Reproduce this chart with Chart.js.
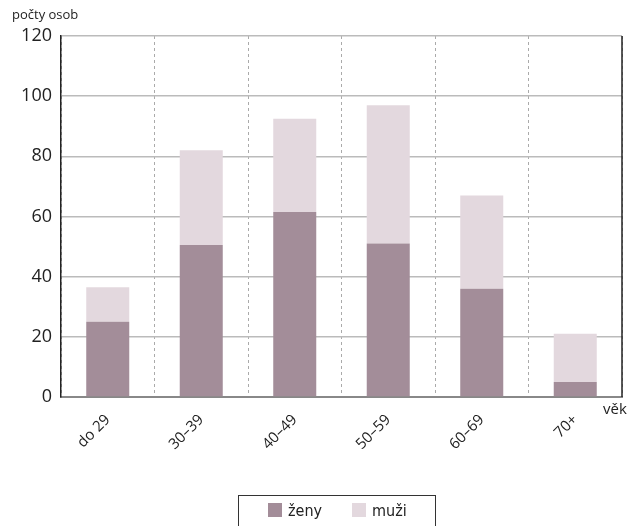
<!DOCTYPE html>
<html>
<head>
<meta charset="utf-8">
<script src="https://cdn.jsdelivr.net/npm/chart.js@4"></script>
<style>
  body { margin: 0; background: #fff; }
  #wrap { position: relative; width: 635px; height: 526px; }
  #legend {
    position: absolute; left: 238px; top: 495px; width: 198px; height: 40px;
    border: 1px solid #333; box-sizing: border-box;
    font-family: "DejaVu Sans Condensed", "Liberation Sans Narrow", sans-serif; font-size: 16px; color: #222;
  }
  #legend span.item { position: absolute; top: 5px; white-space: nowrap; }
  #legend span.box { display: inline-block; width: 14px; height: 14px; vertical-align: -1px; margin-right: 6px; }
</style>
</head>
<body>
<div id="wrap">
  <canvas id="chart" width="635" height="526"></canvas>
  <div id="legend"></div>
</div>
<script>
const categories = ["do 29", "30–39", "40–49", "50–59", "60–69", "70+"];
const zeny = [25, 50.5, 61.5, 51, 36, 5];
const muzi = [11.5, 31.5, 31, 46, 31, 16];
const seriesNames = ["ženy", "muži"];
const seriesColors = ["#a38d99", "#e3d8de"];

// popisky os a pravy okraj
const extras = {
    id: "extras",
    afterDraw(chart) {
        const ctx = chart.ctx;
        const a = chart.chartArea;
        ctx.save();
        ctx.strokeStyle = "#222";
        ctx.lineWidth = 1.5;
        ctx.beginPath();
        ctx.moveTo(a.right, a.top);
        ctx.lineTo(a.right, a.bottom);
        ctx.stroke();
        ctx.fillStyle = "#222";
        ctx.textBaseline = "middle";
        ctx.font = "13px 'Open Sans'";
        ctx.fillText("počty osob", 12, 15);
        ctx.font = "15px 'Open Sans'";
        ctx.fillText("věk", 603, 410);
        ctx.restore();
    }
};

new Chart(document.getElementById("chart").getContext("2d"), {
    type: "bar",
    data: {
        labels: categories,
        datasets: [
            { label: seriesNames[0], data: zeny, backgroundColor: seriesColors[0] },
            { label: seriesNames[1], data: muzi, backgroundColor: seriesColors[1] }
        ]
    },
    options: {
        responsive: false,
        animation: false,
        datasets: { bar: { barPercentage: 0.46, categoryPercentage: 1 } },
        layout: { padding: { top: 36, right: 13, left: 0, bottom: 0 } },
        plugins: { legend: { display: false }, tooltip: { enabled: false } },
        scales: {
            x: {
                stacked: true,
                afterFit: s => { s.height = 129; },
                grid: { color: "#aaa", lineWidth: 1, drawTicks: false, offset: true },
                border: { color: "#888", width: 2, dash: [3, 3] },
                ticks: {
                    color: "#222", maxRotation: 45, minRotation: 45, padding: 14,
                    font: { family: "Open Sans", size: 15 }
                }
            },
            y: {
                stacked: true,
                min: 0, max: 120,
                afterFit: s => { s.width = 61; },
                grid: { color: "#bbb", lineWidth: 1.5, drawTicks: false },
                border: { color: "#222", width: 1.5 },
                ticks: {
                    stepSize: 20, color: "#222", padding: 9,
                    font: { family: "Open Sans", size: 18 }
                }
            }
        }
    },
    plugins: [extras]
});

const legend = document.getElementById("legend");
const itemX = [29, 113];
seriesNames.forEach((name, i) => {
    const item = document.createElement("span");
    item.className = "item";
    item.style.left = itemX[i] + "px";
    item.innerHTML = '<span class="box" style="background:' + seriesColors[i] + '"></span>' + name;
    legend.appendChild(item);
});
</script>
</body>
</html>
